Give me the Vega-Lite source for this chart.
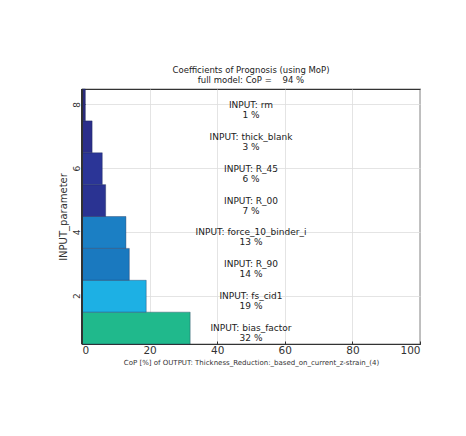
{
  "$schema": "https://vega.github.io/schema/vega-lite/v6.json",
  "autosize": {"type": "none"},
  "width": 338,
  "height": 255,
  "padding": {"left": 82, "top": 89, "right": 46, "bottom": 92},
  "background": "white",
  "title": {
    "text": ["Coefficients of Prognosis (using MoP)", "full model: CoP =\u00a0\u00a0\u00a0\u00a094 %"],
    "fontSize": 8.5,
    "fontWeight": "normal",
    "font": "DejaVu Sans",
    "color": "#222",
    "lineHeight": 9.5,
    "offset": 4,
    "anchor": "middle"
  },
  "config": {
    "font": "DejaVu Sans",
    "view": {"stroke": "#333", "strokeWidth": 1.2},
    "axis": {"grid": true, "gridColor": "#ddd", "gridWidth": 0.8, "domain": true, "domainColor": "#333", "domainWidth": 1.2, "tickColor": "#333", "tickSize": -3, "labelColor": "#333", "titleColor": "#333"}
  },
  "data": {
    "values": [
      {"idx": 1, "name": "bias_factor", "cop": 32},
      {"idx": 2, "name": "fs_cid1", "cop": 19},
      {"idx": 3, "name": "R_90", "cop": 14},
      {"idx": 4, "name": "force_10_binder_i", "cop": 13},
      {"idx": 5, "name": "R_00", "cop": 7},
      {"idx": 6, "name": "R_45", "cop": 6},
      {"idx": 7, "name": "thick_blank", "cop": 3},
      {"idx": 8, "name": "rm", "cop": 1}
    ]
  },
  "transform": [
    {"calculate": "'INPUT: ' + datum.name + '\\n' + datum.cop + ' %'", "as": "label"}
  ],
  "encoding": {
    "y": {
      "field": "idx",
      "type": "ordinal",
      "sort": "descending",
      "scale": {"paddingInner": 0, "paddingOuter": 0},
      "axis": {"values": [2, 4, 6, 8], "labelAngle": -90, "labelFontSize": 9, "labelPadding": 4, "bandPosition": 0.5, "title": "INPUT_parameter", "titleFontSize": 10, "titleFontWeight": "normal", "titlePadding": 4}
    }
  },
  "layer": [
    {
      "mark": {"type": "bar", "stroke": "#1a2a50", "strokeWidth": 0.6, "strokeOpacity": 0.6},
      "encoding": {
        "x": {
          "field": "cop",
          "type": "quantitative",
          "scale": {"domain": [0, 100]},
          "axis": {"values": [0, 20, 40, 60, 80, 100], "labelFontSize": 10.5, "labelPadding": 4, "title": "CoP [%] of OUTPUT: Thickness_Reduction:_based_on_current_z-strain_(4)", "titleFontSize": 7, "titleFontWeight": "normal", "titlePadding": 3}
        },
        "color": {
          "field": "idx",
          "type": "ordinal",
          "scale": {"domain": [1, 2, 3, 4, 5, 6, 7, 8], "range": ["#20b98c", "#1db0e4", "#1a79bf", "#1b7fc4", "#2a3392", "#2b3597", "#2b2e8a", "#2a2a7c"]},
          "legend": null
        }
      }
    },
    {
      "mark": {"type": "rule", "color": "#333", "strokeWidth": 1.2},
      "encoding": {"x": {"datum": 0, "type": "quantitative"}, "y": null}
    },
    {
      "mark": {"type": "text", "fontSize": 9, "lineBreak": "\n", "lineHeight": 10, "color": "#222", "align": "center", "baseline": "middle"},
      "encoding": {
        "x": {"datum": 50, "type": "quantitative"},
        "text": {"field": "label"}
      }
    }
  ]
}
